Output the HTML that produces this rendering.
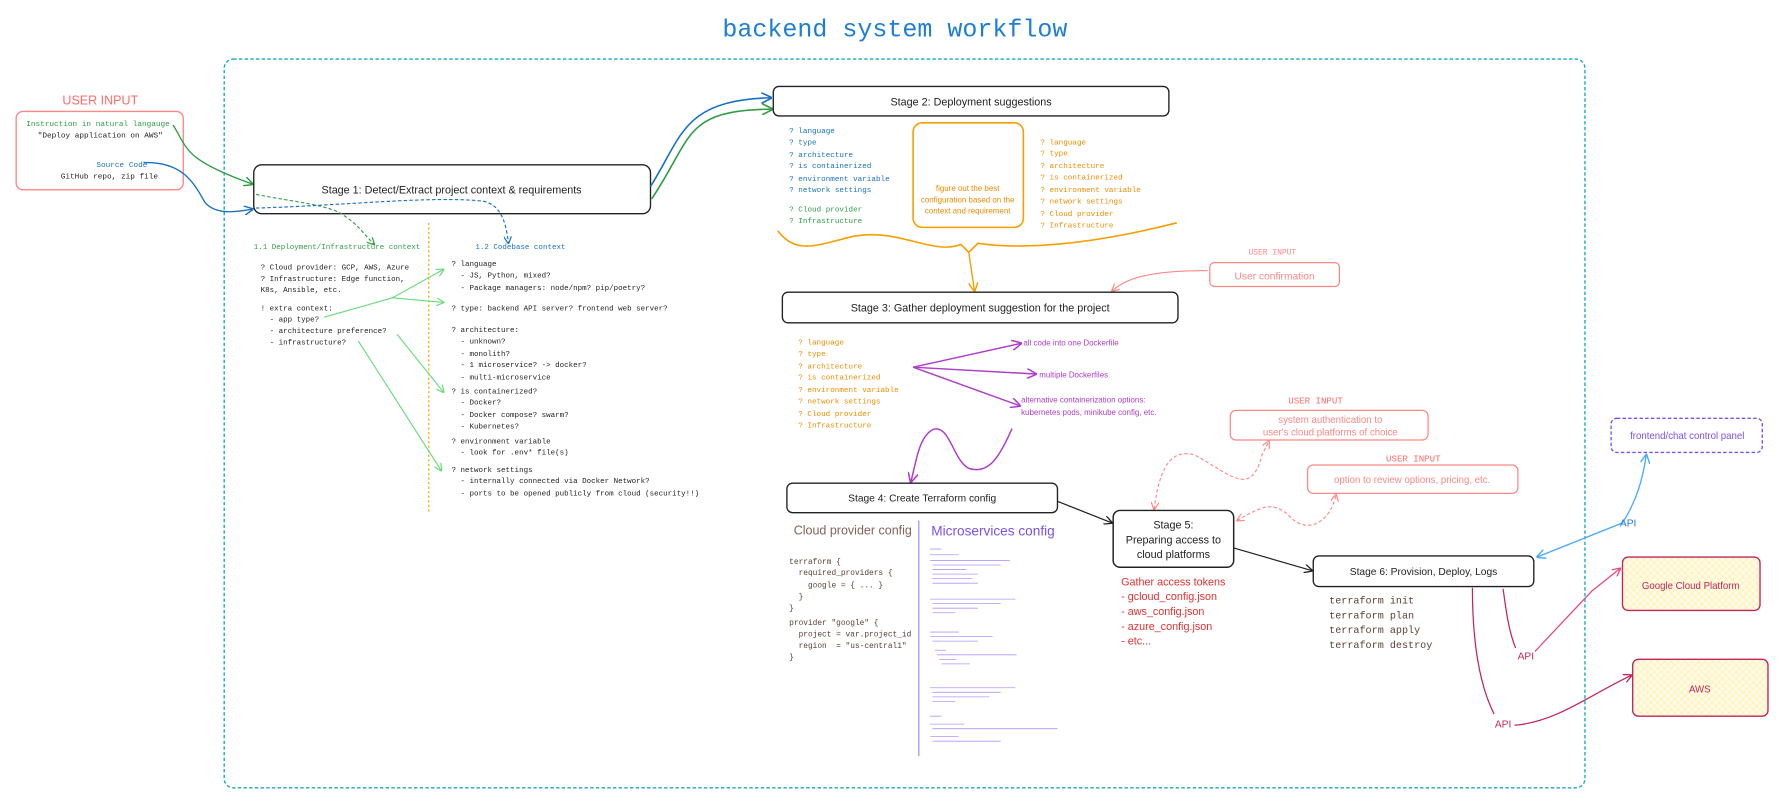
<!DOCTYPE html>
<html><head><meta charset="utf-8"><style>
html,body{margin:0;padding:0;background:#fff}
svg{display:block}
text{white-space:pre}
.m{font-family:"Liberation Mono",monospace}
.s{font-family:"Liberation Sans",sans-serif}
</style></head><body>
<svg width="1783" height="806" viewBox="0 0 1568 709" xmlns="http://www.w3.org/2000/svg" xml:space="preserve">
<defs>
<marker id="ab" viewBox="0 0 10 10" refX="9" refY="5" markerWidth="7" markerHeight="7" orient="auto-start-reverse"><path d="M0,0 L10,5 L0,10" fill="none" stroke="context-stroke" stroke-width="1.5"/></marker>
<pattern id="hx" width="6" height="6" patternUnits="userSpaceOnUse"><rect width="6" height="6" fill="#fffbe6"/><path d="M0,6 L6,0 M0,0 L6,6" stroke="#ffec99" stroke-width="0.5"/></pattern>
</defs>
<text x="787" y="32" text-anchor="middle" class="m" font-size="22" fill="#1c7ed6">backend system workflow</text>
<rect x="197" y="52" width="1197" height="641" rx="8" fill="none" stroke="#15aabf" stroke-width="1.2" stroke-dasharray="3,2"/>

<text x="88" y="92" text-anchor="middle" class="s" font-size="11" fill="#ff6b6b">USER INPUT</text>
<rect x="14" y="98" width="147" height="69" rx="6" fill="none" stroke="#ff8787" stroke-width="1.2"/>
<text x="86" y="111" text-anchor="middle" class="m" font-size="6.8" fill="#2f9e44">Instruction in natural langauge</text>
<text x="88" y="121" text-anchor="middle" class="m" font-size="6.8" fill="#222">"Deploy application on AWS"</text>
<text x="107" y="147" text-anchor="middle" class="m" font-size="6.8" fill="#1971c2">Source Code</text>
<text x="96" y="157" text-anchor="middle" class="m" font-size="6.8" fill="#222">GitHub repo, zip file</text>
<path d="M152,110 C165,130 160,140 222,162" fill="none" stroke="#2f9e44" stroke-width="1.2" marker-end="url(#ab)"/>
<path d="M126,143 C160,142 170,160 180,178 C190,190 210,186 222,184" fill="none" stroke="#1971c2" stroke-width="1.2" marker-end="url(#ab)"/>

<rect x="223" y="145" width="349" height="43" rx="7" fill="#fff" stroke="#222" stroke-width="1.2"/>
<text x="397" y="170" text-anchor="middle" class="s" font-size="9.5" fill="#222">Stage 1: Detect/Extract project context &amp; requirements</text>
<path d="M225,171 C260,178 290,180 303,190 C315,198 320,206 329,215" fill="none" stroke="#2f9e44" stroke-width="1" stroke-dasharray="3,2" marker-end="url(#ab)"/>
<path d="M225,183 C300,181 380,172 425,177 C440,180 445,195 447,214" fill="none" stroke="#1971c2" stroke-width="1" stroke-dasharray="3,2" marker-end="url(#ab)"/>
<path d="M572,164 C600,120 600,88 678,86" fill="none" stroke="#1971c2" stroke-width="1.4" marker-end="url(#ab)"/>
<path d="M573,175 C610,120 600,97 679,96" fill="none" stroke="#2f9e44" stroke-width="1.4" marker-end="url(#ab)"/>

<line x1="377" y1="196" x2="377" y2="450" stroke="#f59f00" stroke-width="1" stroke-dasharray="2,2"/>
<g class="m" font-size="6.6" fill="#222">
<text x="223" y="219" fill="#2f9e44">1.1 Deployment/Infrastructure context</text>
<text x="229" y="237">? Cloud provider: GCP, AWS, Azure</text>
<text x="229" y="247">? Infrastructure: Edge function,</text>
<text x="229" y="257">K8s, Ansible, etc.</text>
<text x="229" y="273">! extra context:</text>
<text x="229" y="283">  - app type?</text>
<text x="229" y="293">  - architecture preference?</text>
<text x="229" y="303">  - infrastructure?</text>
<text x="418" y="219" fill="#1971c2">1.2 Codebase context</text>
<text x="397" y="234">? language</text>
<text x="397" y="244">  - JS, Python, mixed?</text>
<text x="397" y="255">  - Package managers: node/npm? pip/poetry?</text>
<text x="397" y="273">? type: backend API server? frontend web server?</text>
<text x="397" y="292">? architecture:</text>
<text x="397" y="302">  - unknown?</text>
<text x="397" y="313">  - monolith?</text>
<text x="397" y="323">  - 1 microservice? -&gt; docker?</text>
<text x="397" y="334">  - multi-microservice</text>
<text x="397" y="346">? is containerized?</text>
<text x="397" y="356">  - Docker?</text>
<text x="397" y="367">  - Docker compose? swarm?</text>
<text x="397" y="377">  - Kubernetes?</text>
<text x="397" y="390">? environment variable</text>
<text x="397" y="400">  - look for .env* file(s)</text>
<text x="397" y="415">? network settings</text>
<text x="397" y="425">  - internally connected via Docker Network?</text>
<text x="397" y="436">  - ports to be opened publicly from cloud (security!!)</text>
</g>
<g fill="none" stroke="#69db7c" stroke-width="1">
<path d="M285,279 L345,262 L390,237" marker-end="url(#ab)"/>
<path d="M345,262 L390,266" marker-end="url(#ab)"/>
<path d="M349,294 L390,345" marker-end="url(#ab)"/>
<path d="M315,300 L388,414" marker-end="url(#ab)"/>
</g>

<rect x="680" y="76" width="348" height="26" rx="5" fill="#fff" stroke="#222" stroke-width="1.2"/>
<text x="854" y="93" text-anchor="middle" class="s" font-size="9.5" fill="#222">Stage 2: Deployment suggestions</text>
<g class="m" font-size="6.7">
<g fill="#1971c2"><text x="694" y="117">? language</text><text x="694" y="127">? type</text><text x="694" y="138">? architecture</text><text x="694" y="148">? is containerized</text><text x="694" y="159">? environment variable</text><text x="694" y="169">? network settings</text></g>
<g fill="#2f9e44"><text x="694" y="186">? Cloud provider</text><text x="694" y="196">? Infrastructure</text></g>
<g fill="#f08c00"><text x="915" y="127">? language</text><text x="915" y="137">? type</text><text x="915" y="148">? architecture</text><text x="915" y="158">? is containerized</text><text x="915" y="169">? environment variable</text><text x="915" y="179">? network settings</text><text x="915" y="190">? Cloud provider</text><text x="915" y="200">? Infrastructure</text></g>
</g>
<rect x="803" y="108" width="97" height="92" rx="8" fill="none" stroke="#f59f00" stroke-width="1.4"/>
<g class="s" font-size="7" fill="#f08c00" text-anchor="middle"><text x="851" y="168">figure out the best</text><text x="851" y="178">configuration based on the</text><text x="851" y="188">context and requirement</text></g>
<path d="M684,203 C700,225 720,215 750,208 C790,200 820,225 845,215 L852,222 L860,214 C900,220 960,215 1035,196" fill="none" stroke="#f59f00" stroke-width="1.4"/>
<path d="M852,222 L857,256" fill="none" stroke="#f59f00" stroke-width="1.2" marker-end="url(#ab)"/>

<text x="1119" y="224" text-anchor="middle" class="m" font-size="7" fill="#ff8787">USER INPUT</text>
<rect x="1064" y="231" width="114" height="21" rx="4" fill="none" stroke="#ff8787" stroke-width="1.1"/>
<text x="1121" y="246" text-anchor="middle" class="s" font-size="9" fill="#ff8787">User confirmation</text>
<path d="M1062,238 C1010,238 990,245 978,256" fill="none" stroke="#ff8787" stroke-width="1" marker-end="url(#ab)"/>
<rect x="688" y="257" width="348" height="27" rx="5" fill="#fff" stroke="#222" stroke-width="1.2"/>
<text x="862" y="274" text-anchor="middle" class="s" font-size="9.5" fill="#222">Stage 3: Gather deployment suggestion for the project</text>
<g class="m" font-size="6.7" fill="#f08c00"><text x="702" y="303">? language</text><text x="702" y="313">? type</text><text x="702" y="324">? architecture</text><text x="702" y="334">? is containerized</text><text x="702" y="345">? environment variable</text><text x="702" y="355">? network settings</text><text x="702" y="366">? Cloud provider</text><text x="702" y="376">? Infrastructure</text></g>
<g fill="none" stroke="#ae3ec9" stroke-width="1.3">
<path d="M803,323 L898,302" marker-end="url(#ab)"/>
<path d="M803,323 L911,329" marker-end="url(#ab)"/>
<path d="M803,323 L897,357" marker-end="url(#ab)"/>
<path d="M890,377 C880,400 870,418 852,412 C838,405 835,372 820,378 C808,385 806,405 801,424" marker-end="url(#ab)"/>
</g>
<g class="s" font-size="7" fill="#ae3ec9"><text x="900" y="304">all code into one Dockerfile</text><text x="914" y="332">multiple Dockerfiles</text><text x="898" y="354">alternative containerization options:</text><text x="898" y="365">kubernetes pods, minikube config, etc.</text></g>

<text x="1157" y="355" text-anchor="middle" class="m" font-size="8" fill="#ff6b6b">USER INPUT</text>
<rect x="1082" y="361" width="174" height="26" rx="5" fill="none" stroke="#ff8787" stroke-width="1.1"/>
<g class="s" font-size="8.5" fill="#ff8787" text-anchor="middle"><text x="1170" y="372">system authentication to</text><text x="1170" y="383">user's cloud platforms of choice</text></g>
<text x="1243" y="406" text-anchor="middle" class="m" font-size="8" fill="#ff6b6b">USER INPUT</text>
<rect x="1150" y="409" width="185" height="25" rx="5" fill="none" stroke="#ff8787" stroke-width="1.1"/>
<text x="1242" y="425" text-anchor="middle" class="s" font-size="8.5" fill="#ff8787">option to review options, pricing, etc.</text>
<path d="M1015,448 C1020,410 1030,395 1050,400 C1080,415 1100,440 1110,400 L1116,388" fill="none" stroke="#ff8787" stroke-width="1" stroke-dasharray="3,2" marker-start="url(#ab)" marker-end="url(#ab)"/>
<path d="M1088,458 C1110,445 1120,440 1135,455 C1150,470 1170,460 1175,435" fill="none" stroke="#ff8787" stroke-width="1" stroke-dasharray="3,2" marker-start="url(#ab)" marker-end="url(#ab)"/>

<rect x="692" y="425" width="238" height="26" rx="5" fill="#fff" stroke="#222" stroke-width="1.2"/>
<text x="811" y="441" text-anchor="middle" class="s" font-size="9" fill="#222">Stage 4: Create Terraform config</text>
<text x="698" y="470" class="s" font-size="11" fill="#846358">Cloud provider config</text>
<text x="819" y="471" class="s" font-size="12" fill="#7950f2">Microservices config</text>
<line x1="808" y1="458" x2="808" y2="665" stroke="#b197fc" stroke-width="1.2"/>
<g class="m" font-size="6.9" fill="#5c4033">
<text x="694" y="496">terraform {</text><text x="694" y="506">  required_providers {</text><text x="694" y="517">    google = { ... }</text><text x="694" y="527">  }</text><text x="694" y="537">}</text>
<text x="694" y="550">provider "google" {</text><text x="694" y="560">  project = var.project_id</text><text x="694" y="570">  region  = "us-central1"</text><text x="694" y="580">}</text>
</g>
<g stroke="#b197fc" stroke-width="0.7">
<path d="M818,483h10 M818,488h25 M818,493h70 M820,497h60 M820,501h30 M820,505h40 M820,509h35 M820,513h40 M818,527h75 M820,531h60 M820,535h40 M820,539h20 M818,556h25 M818,560h55 M820,564h40 M822,572h10 M824,576h70 M826,580h15 M828,584h25 M818,605h75 M820,609h60 M820,613h50 M820,617h20 M818,630h10 M818,637h30 M820,641h110 M818,648h25 M820,652h60"/>
</g>

<path d="M930,441 L978,460" stroke="#222" stroke-width="1.1" marker-end="url(#ab)"/>
<rect x="979" y="449" width="106" height="50" rx="6" fill="#fff" stroke="#222" stroke-width="1.3"/>
<g class="s" font-size="9.5" fill="#222" text-anchor="middle"><text x="1032" y="465">Stage 5:</text><text x="1032" y="478">Preparing access to</text><text x="1032" y="491">cloud platforms</text></g>
<g class="s" font-size="9.5" fill="#e03131"><text x="986" y="515">Gather access tokens</text><text x="986" y="528">- gcloud_config.json</text><text x="986" y="541">- aws_config.json</text><text x="986" y="554">- azure_config.json</text><text x="986" y="567">- etc...</text></g>
<path d="M1085,482 L1154,502" stroke="#222" stroke-width="1.1" marker-end="url(#ab)"/>

<rect x="1155" y="489" width="194" height="27" rx="5" fill="#fff" stroke="#222" stroke-width="1.2"/>
<text x="1252" y="506" text-anchor="middle" class="s" font-size="9" fill="#222">Stage 6: Provision, Deploy, Logs</text>
<g class="m" font-size="8.9" fill="#5c4033"><text x="1169" y="531">terraform init</text><text x="1169" y="544">terraform plan</text><text x="1169" y="557">terraform apply</text><text x="1169" y="570">terraform destroy</text></g>

<rect x="1417" y="368" width="133" height="30" rx="5" fill="none" stroke="#7950f2" stroke-width="1.2" stroke-dasharray="3,2"/>
<text x="1484" y="386" text-anchor="middle" class="s" font-size="8.5" fill="#7950f2">frontend/chat control panel</text>
<path d="M1352,490 L1427,460 C1440,440 1445,420 1448,400" fill="none" stroke="#4dabf7" stroke-width="1.2" marker-start="url(#ab)" marker-end="url(#ab)"/>
<text x="1432" y="463" text-anchor="middle" class="s" font-size="9" fill="#1c7ed6">API</text>

<rect x="1427" y="490" width="121" height="47" rx="5" fill="url(#hx)" stroke="#c2255c" stroke-width="1.2"/>
<text x="1487" y="518" text-anchor="middle" class="s" font-size="8.5" fill="#c2255c">Google Cloud Platform</text>
<rect x="1436" y="580" width="119" height="50" rx="5" fill="url(#hx)" stroke="#c2255c" stroke-width="1.2"/>
<text x="1495" y="609" text-anchor="middle" class="s" font-size="8.5" fill="#c2255c">AWS</text>
<path d="M1322,518 C1325,540 1327,555 1333,570" fill="none" stroke="#c2255c" stroke-width="1.1"/>
<path d="M1350,573 L1400,520 L1425,500" fill="none" stroke="#e64980" stroke-width="1.1" marker-end="url(#ab)"/>
<text x="1342" y="580" text-anchor="middle" class="s" font-size="9" fill="#c2255c">API</text>
<path d="M1295,517 C1295,560 1300,600 1314,628" fill="none" stroke="#c2255c" stroke-width="1.1"/>
<path d="M1332,638 C1370,635 1400,610 1435,594" fill="none" stroke="#c2255c" stroke-width="1.1" marker-end="url(#ab)"/>
<text x="1322" y="640" text-anchor="middle" class="s" font-size="9" fill="#c2255c">API</text>
</svg>
</body></html>
